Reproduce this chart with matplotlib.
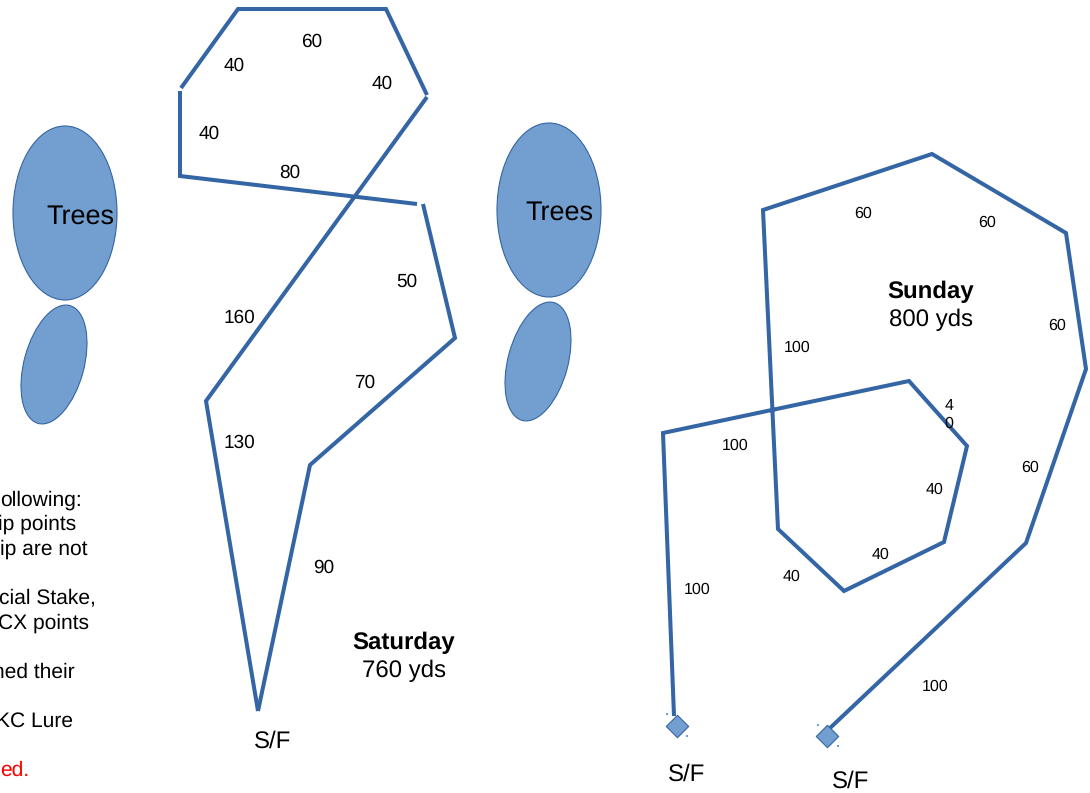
import matplotlib.pyplot as plt
from matplotlib.patches import Ellipse

plt.rcParams['font.family'] = ['Liberation Sans', 'DejaVu Sans']
plt.rcParams['text.hinting'] = 'no_hinting'
plt.rcParams['text.hinting_factor'] = 1

BLUE = '#3465a4'
FILL = '#729fcf'

# saturday course, broken where the drawn segments do not touch
sat_leg1 = [(258, 711), (206, 401), (427, 97)]
sat_leg2 = [(427, 95), (386, 9), (238, 9), (181, 88)]
sat_leg3 = [(180, 91), (180, 176), (417, 204)]
sat_leg4 = [(423, 204), (455, 338), (310, 465), (258, 711)]

# sunday course
sun_leg1 = [(674, 716), (663, 433), (909, 381), (967, 446), (944, 542), (844, 591), (778, 529), (763, 210), (932, 154), (1066, 233), (1086, 369), (1026, 543), (829, 729)]
sat_lines = [sat_leg1, sat_leg2, sat_leg3, sat_leg4]
sun_lines = [sun_leg1]

sat_labels = ['60', '40', '40', '40', '80', '50', '160', '70', '130', '90']
sat_label_x = [312, 234, 382, 209, 290, 407, 239, 365, 239, 324]
sat_label_y = [41, 65, 83, 133, 172, 281, 317, 382, 442, 567]

sun_labels = ['60', '60', '60', '100', '100', '60', '40', '40', '40', '100', '100']
sun_label_x = [863, 987, 1057, 797, 735, 1030, 935, 881, 792, 697, 935]
sun_label_y = [213, 222, 325, 347, 445, 467, 489, 554, 576, 589, 686]

# trees: x, y, width, height, angle
tree_x = [65, 54, 549, 538]
tree_y = [213, 364.5, 210, 361.5]
tree_w = [104, 60, 104, 60]
tree_h = [174, 122, 174, 122]
tree_a = [0, 15, 0, 15]

# the note is cut off by the left edge in the original
notes = ['ollowing:', 'ip points', 'ip are not', 'cial Stake,', 'CX points', 'ned their', 'KC Lure', 'ed.']
note_end = [82, 76, 88, 96, 89, 75, 73, 29]
note_y = [499, 523, 548, 597, 622, 671, 720, 769]
note_col = ['black'] * 7 + ['red']

diamond_x = [677, 827]
diamond_y = [726, 736]
speck_x = [667, 687, 818, 838]
speck_y = [714, 736, 725, 746]

fig = plt.figure(figsize=(10.9, 7.93), dpi=100)
ax = fig.add_axes([0, 0, 1, 1])
ax.set_xlim(0, 1090)
ax.set_ylim(793, 0)
ax.axis('off')

for i in range(len(tree_x)):
    ax.add_patch(Ellipse((tree_x[i], tree_y[i]), tree_w[i], tree_h[i], angle=tree_a[i],
                         facecolor=FILL, edgecolor=BLUE, linewidth=0.8))

for leg in sat_lines + sun_lines:
    ax.plot([p[0] for p in leg], [p[1] for p in leg], color=BLUE, linewidth=2.9, solid_joinstyle='miter', solid_capstyle='butt')

ax.scatter(diamond_x, diamond_y, marker='D', s=130, facecolor=FILL, edgecolor=BLUE, linewidth=0.8, zorder=3)
ax.scatter(speck_x, speck_y, marker='s', s=1, facecolor=FILL, edgecolor='none')

for i in range(len(sat_labels)):
    ax.text(sat_label_x[i], sat_label_y[i] + 1, sat_labels[i], fontsize=13.5, ha='center', va='center')
for i in range(len(sun_labels)):
    ax.text(sun_label_x[i], sun_label_y[i] + 1, sun_labels[i], fontsize=11.5, ha='center', va='center')
# this one wraps in the original box
ax.text(949, 406, '4', fontsize=11.5, ha='center', va='center')
ax.text(949, 424, '0', fontsize=11.5, ha='center', va='center')

ax.text(80, 217, 'Trees', fontsize=19.5, ha='center', va='center')
ax.text(559, 213, 'Trees', fontsize=19.5, ha='center', va='center')

ax.text(404, 643, 'Saturday', fontsize=17.5, fontweight='bold', ha='center', va='center')
ax.text(404, 671, '760 yds', fontsize=17.5, ha='center', va='center')
ax.text(931, 292, 'Sunday', fontsize=17.5, fontweight='bold', ha='center', va='center')
ax.text(931, 320, '800 yds', fontsize=17.5, ha='center', va='center')

ax.text(273, 742, 'S/F', fontsize=17.5, ha='center', va='center')
ax.text(687, 775, 'S/F', fontsize=17.5, ha='center', va='center')
ax.text(851, 782, 'S/F', fontsize=17.5, ha='center', va='center')

for i in range(len(notes)):
    ax.text(note_end[i], note_y[i] + 1, notes[i], fontsize=15, color=note_col[i], ha='right', va='center')

fig.savefig('out.png', dpi=100)
